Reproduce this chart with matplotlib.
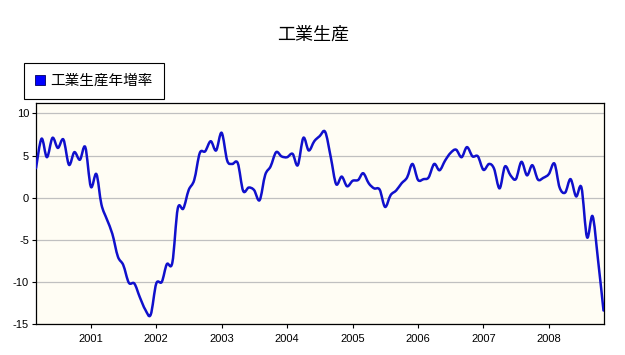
import pandas as pd
import matplotlib.pyplot as plt
import matplotlib.dates as mdates
import numpy as np
from matplotlib.path import Path
from matplotlib.patches import PathPatch
from matplotlib.lines import Line2D

plt.rcParams['axes.unicode_minus'] = False

# 月次データ (2000年3月 ~ 2008年11月)
start_month = '2000-03-01'
growth = [
    3.5, 7.0, 4.8, 7.1, 5.9, 6.9, 3.9, 5.4, 4.5, 6.0,
    1.3, 2.8, -0.8, -2.6, -4.3, -7.0, -8.0, -10.1, -10.2, -11.8, -13.3, -13.9,
    -10.2, -10.0, -7.9, -7.7, -1.3, -1.3, 0.9, 2.1, 5.3, 5.5, 6.7, 5.6,
    7.7, 4.4, 4.0, 4.1, 0.8, 1.2, 0.9, -0.3, 2.7, 3.7, 5.4, 4.9,
    4.8, 5.2, 3.85, 7.1, 5.6, 6.7, 7.3, 7.8, 4.8, 1.6, 2.5, 1.35,
    2.0, 2.1, 2.9, 1.7, 1.1, 0.95, -1.1, 0.3, 0.85, 1.7, 2.4, 4.0,
    2.1, 2.2, 2.4, 4.0, 3.25, 4.4, 5.3, 5.7, 4.8, 6.0, 4.9, 4.9,
    3.3, 4.0, 3.45, 1.1, 3.7, 2.65, 2.2, 4.25, 2.65, 3.85, 2.15, 2.35,
    2.8, 4.05, 1.2, 0.6, 2.2, 0.15, 1.2, -4.7, -2.2, -7.3, -13.4,
]
title = '工業生産'
series_name = '工業生産年増率'
year_ticks = list(range(2001, 2009))
y_ticks = [10, 5, 0, -5, -10, -15]

dates = pd.date_range(start_month, periods=len(growth), freq='MS')
x = mdates.date2num(dates.to_pydatetime())
y = np.array(growth)

line_color = '#1010cc'
cjk = ['Noto Sans CJK JP', 'DejaVu Sans']

fig = plt.figure(figsize=(6.25, 3.55), dpi=100)
ax = fig.add_axes([36 / 625, 1 - 324 / 355, (603.5 - 36) / 625, (324 - 103.3) / 355])
ax.set_facecolor('#fffdf4')

# 平滑化した折れ線 (Catmull-Rom -> ベジェ)
px = np.concatenate([[x[0]], x, [x[-1]]])
py = np.concatenate([[y[0]], y, [y[-1]]])
verts = [(x[0], y[0])]
codes = [Path.MOVETO]
for i in range(1, len(px) - 2):
    c1 = (px[i] + (px[i + 1] - px[i - 1]) / 6, py[i] + (py[i + 1] - py[i - 1]) / 6)
    c2 = (px[i + 1] - (px[i + 2] - px[i]) / 6, py[i + 1] - (py[i + 2] - py[i]) / 6)
    verts += [c1, c2, (px[i + 1], py[i + 1])]
    codes += [Path.CURVE4] * 3
ax.add_patch(PathPatch(Path(verts, codes), facecolor='none', edgecolor=line_color,
                       lw=1.8, zorder=3, joinstyle='round', capstyle='round'))

ax.set_xlim(x[0], x[-1])
ax.set_ylim(-15, 11.2)

# 軸
ax.set_xticks([mdates.date2num(pd.Timestamp(f'{yr}-01-01').to_pydatetime()) for yr in year_ticks])
ax.set_xticklabels([str(yr) for yr in year_ticks])
ax.set_yticks(y_ticks)
ax.set_yticklabels([str(v) for v in y_ticks])
ax.tick_params(axis='both', direction='out', length=3, width=0.8, labelsize=8)
ax.tick_params(axis='x', pad=4)
ax.tick_params(axis='y', pad=2)
for lab in ax.get_xticklabels() + ax.get_yticklabels():
    lab.set_family('Liberation Sans')

ax.yaxis.grid(True, color='#c0c0c0', lw=0.9)
ax.set_axisbelow(True)
for sp in ax.spines.values():
    sp.set_color('black')
    sp.set_linewidth(0.9)

# タイトル
fig.text(313 / 625, 1 - 35 / 355, title, ha='center', va='center', fontsize=13, family=cjk)

# 凡例
handle = Line2D([], [], marker='s', linestyle='none', markersize=6.5,
                markerfacecolor='#0000ff', markeredgecolor='#000060', markeredgewidth=0.6)
leg = fig.legend([handle], [series_name], loc='upper left',
                 bbox_to_anchor=(24 / 625, 1 - 63 / 355), fancybox=False, framealpha=1,
                 edgecolor='black', borderpad=0.75, handlelength=0.7, handletextpad=0.35,
                 borderaxespad=0, prop={'family': cjk, 'size': 10.5})
leg.get_frame().set_linewidth(0.8)

plt.savefig('out.png', dpi=100)
